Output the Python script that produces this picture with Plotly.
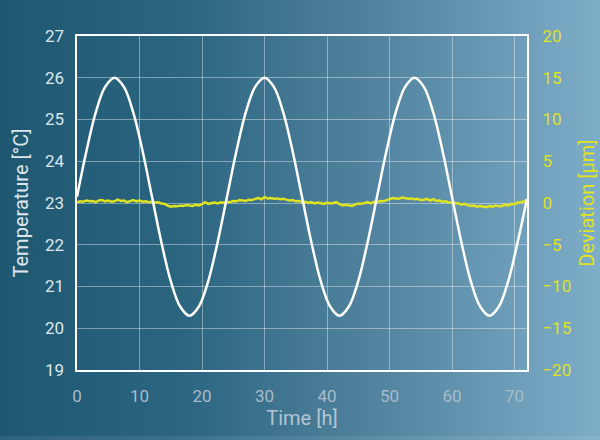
import base64
import plotly.graph_objects as go

# ---- data ----
time_temp = [i * 1.5 for i in range(49)]
temperature = [
    23.15, 24.24, 25.17, 25.78, 26.00, 25.78, 25.17, 24.24,
    23.15, 22.06, 21.13, 20.52, 20.30, 20.52, 21.13, 22.06,
    23.15, 24.24, 25.17, 25.78, 26.00, 25.78, 25.17, 24.24,
    23.15, 22.06, 21.13, 20.52, 20.30, 20.52, 21.13, 22.06,
    23.15, 24.24, 25.17, 25.78, 26.00, 25.78, 25.17, 24.24,
    23.15, 22.06, 21.13, 20.52, 20.30, 20.52, 21.13, 22.06,
    23.10,
]

time_dev = [i * 0.5 for i in range(145)]
deviation = [
    0.1, 0.2, 0.15, 0.3, 0.2, 0.25, 0.1, 0.3, 0.35, 0.2, 0.3, 0.15,
    0.2, 0.4, 0.25, 0.3, 0.1, 0.25, 0.35, 0.2, 0.3, 0.15, 0.2, 0.1,
    0.15, 0.05, 0.1, -0.05, -0.1, -0.3, -0.45, -0.35, -0.4, -0.3, -0.35, -0.25,
    -0.3, -0.35, -0.2, -0.3, -0.15, 0.1, -0.1, 0.0, 0.05, -0.05, 0.1, 0.05,
    0.15, 0.1, 0.25, 0.2, 0.35, 0.3, 0.25, 0.4, 0.35, 0.5, 0.6, 0.45,
    0.7, 0.55, 0.6, 0.5, 0.55, 0.45, 0.5, 0.4, 0.3, 0.35, 0.2, 0.25,
    0.1, 0.15, 0.0, 0.1, -0.05, 0.05, 0.0, -0.1, 0.05, -0.05, 0.0, 0.1,
    -0.15, -0.3, -0.2, -0.25, -0.35, -0.2, -0.05, -0.1, 0.0, 0.1, -0.05, 0.15,
    0.1, 0.25, 0.2, 0.35, 0.45, 0.6, 0.55, 0.5, 0.65, 0.6, 0.5, 0.55,
    0.45, 0.5, 0.35, 0.4, 0.5, 0.3, 0.45, 0.25, 0.3, 0.15, 0.2, 0.05,
    0.1, 0.0, -0.05, -0.2, -0.1, -0.25, -0.35, -0.3, -0.45, -0.35, -0.4, -0.5,
    -0.35, -0.45, -0.3, -0.4, -0.35, -0.2, -0.3, -0.1, -0.15, 0.05, 0.1, 0.2,
    0.3,
]

x_ticks = [0, 10, 20, 30, 40, 50, 60, 70]
temp_ticks = [19, 20, 21, 22, 23, 24, 25, 26, 27]
dev_ticks = [-20, -15, -10, -5, 0, 5, 10, 15, 20]

# ---- layout constants ----
W, H = 600, 440
ML, MR, MT, MB = 77, 73, 36, 70
PW, PH = W - ML - MR, H - MT - MB

YELLOW = "#dfe21e"
FONT = "Roboto"

svg = f"""<svg xmlns='http://www.w3.org/2000/svg' width='{W}' height='{H}' viewBox='0 0 {W} {H}' preserveAspectRatio='none'>
<defs><linearGradient id='g' x1='0' y1='0' x2='1' y2='0'>
<stop offset='0' stop-color='#1d5770'/>
<stop offset='0.3' stop-color='#2b6580'/>
<stop offset='0.6' stop-color='#4f819c'/>
<stop offset='1' stop-color='#7eadc8'/>
</linearGradient></defs>
<rect width='{W}' height='{H}' fill='url(#g)'/>
<rect y='{H-4}' width='{W}' height='4' fill='white' fill-opacity='0.08'/>
</svg>"""
bg_src = "data:image/svg+xml;base64," + base64.b64encode(svg.encode()).decode()

fig = go.Figure()
fig.add_trace(go.Scatter(
    x=time_dev, y=deviation, mode="lines", yaxis="y",
    line=dict(color=YELLOW, width=2.5), hoverinfo="skip", showlegend=False,
))
fig.add_trace(go.Scatter(
    x=time_temp, y=temperature, mode="lines", yaxis="y2",
    line=dict(color="white", width=2.5, shape="spline", smoothing=1.0),
    hoverinfo="skip", showlegend=False,
))

fig.update_layout(
    width=W, height=H,
    margin=dict(l=ML, r=MR, t=MT, b=MB),
    paper_bgcolor="rgba(0,0,0,0)",
    plot_bgcolor="rgba(0,0,0,0)",
    font=dict(family=FONT, size=16),
    images=[dict(
        source=bg_src, xref="paper", yref="paper",
        x=-ML / PW, y=1 + MT / PH, sizex=W / PW, sizey=H / PH,
        xanchor="left", yanchor="top", sizing="stretch", layer="below",
    )],
    xaxis=dict(
        range=[0, 72], tickvals=x_ticks, showgrid=True, automargin=False,
        gridcolor="rgba(255,255,255,0.4)", gridwidth=1,
        showline=True, linecolor="white", linewidth=2, mirror=True,
        zeroline=False, ticks="", ticklabelstandoff=10,
        tickfont=dict(color="#a7bccb", size=17),
        title=dict(text="Time [h]", font=dict(color="#b3c5d2", size=20), standoff=6),
    ),
    yaxis=dict(
        side="right", range=[-20, 20], tickvals=dev_ticks, automargin=False,
        showgrid=False, zeroline=False, ticks="",
        showline=True, linecolor="white", linewidth=2, mirror=True,
        ticklabelstandoff=10,
        tickfont=dict(color=YELLOW, size=17),
        title=dict(text="Deviation [µm]", font=dict(color=YELLOW, size=20), standoff=10),
    ),
    yaxis2=dict(
        side="left", overlaying="y", range=[19, 27], tickvals=temp_ticks,
        automargin=False,
        showgrid=True, gridcolor="rgba(255,255,255,0.4)", gridwidth=1,
        zeroline=False, ticks="", showline=False,
        ticklabelstandoff=12,
        tickfont=dict(color="#dce6ed", size=17),
        title=dict(text="Temperature [°C]", font=dict(color="#dce6ed", size=20), standoff=10),
    ),
)

fig.write_html(
    "out.html",
    config={"displayModeBar": False},
    post_script="document.body.style.margin='0';document.body.style.overflow='hidden';",
)
